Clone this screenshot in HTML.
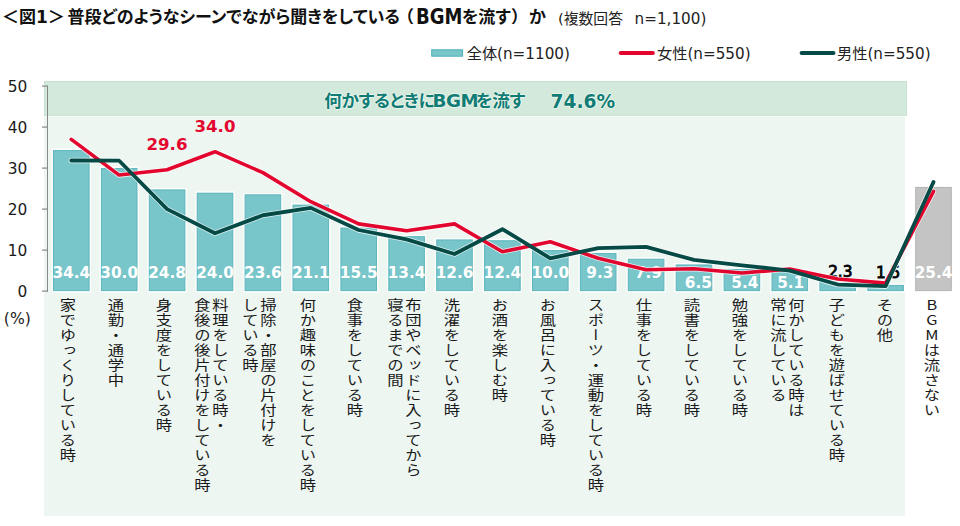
<!DOCTYPE html>
<html lang="ja"><head><meta charset="utf-8"><title>図1</title>
<style>
*{margin:0;padding:0;box-sizing:border-box}
html,body{width:960px;height:526px;background:#fff;overflow:hidden}
body{position:relative;font-family:"Liberation Sans","Noto Sans CJK JP",sans-serif;color:#1a1a1a}
svg{position:absolute;left:0;top:0}
.t{position:absolute;white-space:nowrap;line-height:1}
.num{font-family:"DejaVu Sans","Noto Sans CJK JP",sans-serif}
.title{font-size:17px;font-weight:bold;font-family:"DejaVu Sans","Noto Sans CJK JP",sans-serif;color:#111}
.palt{font-feature-settings:"palt"}
.lat{font-family:"DejaVu Sans",sans-serif}
.sub{font-size:14.8px;font-family:"DejaVu Sans","Noto Sans CJK JP",sans-serif;color:#222}
.leg{top:46.8px;font-size:15.2px;font-family:"DejaVu Sans","Noto Sans CJK JP",sans-serif;color:#222}
.band{font-size:17px;font-weight:bold;color:#107c76;text-shadow:1px 0 rgba(255,255,245,.55),-1px 0 rgba(255,255,245,.55),0 1px rgba(255,255,245,.55),0 -1px rgba(255,255,245,.55);font-family:"Noto Sans CJK JP",sans-serif}
.ax{font-size:15.4px;font-family:"DejaVu Sans",sans-serif;color:#1a1a1a;text-align:right;width:30px}
.dl{font-size:15.3px;font-weight:bold;font-family:"DejaVu Sans",sans-serif;text-align:center;width:60px;letter-spacing:0px}
.red{font-size:16.6px;font-weight:bold;font-family:"DejaVu Sans",sans-serif;color:#e3062f}
.vl{position:absolute;top:297.6px;writing-mode:vertical-rl;font-size:13.6px;letter-spacing:1.4px;font-weight:400;line-height:14.9px;transform:scaleX(1.2);transform-origin:50% 0;font-family:"Noto Sans CJK JP",sans-serif;color:#1a1a1a;white-space:nowrap}
.up{text-orientation:upright}
.band.lat,.band .lat,.title.lat,.sub.lat{font-family:"DejaVu Sans",sans-serif}
</style></head><body>

<svg width="960" height="526" viewBox="0 0 960 526"><rect x="44" y="115.5" width="861" height="400.5" fill="#eef6f2"/><rect x="44" y="115.6" width="861" height="1.2" fill="#fbfdfc"/><rect x="44.5" y="81.5" width="862" height="33.8" fill="#d2e9dc" stroke="#c6e1d2" stroke-width="1"/><rect x="51.60" y="148.66" width="39.40" height="143.84" fill="#fcfefd"/><rect x="99.50" y="166.70" width="39.40" height="125.80" fill="#fcfefd"/><rect x="147.40" y="188.02" width="39.40" height="104.48" fill="#fcfefd"/><rect x="195.30" y="191.30" width="39.40" height="101.20" fill="#fcfefd"/><rect x="243.20" y="192.94" width="39.40" height="99.56" fill="#fcfefd"/><rect x="291.10" y="203.19" width="39.40" height="89.31" fill="#fcfefd"/><rect x="339.00" y="226.15" width="39.40" height="66.35" fill="#fcfefd"/><rect x="386.90" y="234.76" width="39.40" height="57.74" fill="#fcfefd"/><rect x="434.80" y="238.04" width="39.40" height="54.46" fill="#fcfefd"/><rect x="482.70" y="238.86" width="39.40" height="53.64" fill="#fcfefd"/><rect x="530.60" y="248.70" width="39.40" height="43.80" fill="#fcfefd"/><rect x="578.50" y="251.57" width="39.40" height="40.93" fill="#fcfefd"/><rect x="626.40" y="257.31" width="39.40" height="35.19" fill="#fcfefd"/><rect x="674.30" y="263.05" width="39.40" height="29.45" fill="#fcfefd"/><rect x="722.20" y="267.56" width="39.40" height="24.94" fill="#fcfefd"/><rect x="770.10" y="268.79" width="39.40" height="23.71" fill="#fcfefd"/><rect x="818.00" y="280.27" width="39.40" height="12.23" fill="#fcfefd"/><rect x="865.90" y="283.55" width="39.40" height="8.95" fill="#fcfefd"/><rect x="913.80" y="185.56" width="39.40" height="106.94" fill="#fcfefd"/><rect x="53.50" y="150.56" width="35.60" height="140.04" fill="#78c5ca" stroke="#5cb6bc" stroke-width="1"/><rect x="101.40" y="168.60" width="35.60" height="122.00" fill="#78c5ca" stroke="#5cb6bc" stroke-width="1"/><rect x="149.30" y="189.92" width="35.60" height="100.68" fill="#78c5ca" stroke="#5cb6bc" stroke-width="1"/><rect x="197.20" y="193.20" width="35.60" height="97.40" fill="#78c5ca" stroke="#5cb6bc" stroke-width="1"/><rect x="245.10" y="194.84" width="35.60" height="95.76" fill="#78c5ca" stroke="#5cb6bc" stroke-width="1"/><rect x="293.00" y="205.09" width="35.60" height="85.51" fill="#78c5ca" stroke="#5cb6bc" stroke-width="1"/><rect x="340.90" y="228.05" width="35.60" height="62.55" fill="#78c5ca" stroke="#5cb6bc" stroke-width="1"/><rect x="388.80" y="236.66" width="35.60" height="53.94" fill="#78c5ca" stroke="#5cb6bc" stroke-width="1"/><rect x="436.70" y="239.94" width="35.60" height="50.66" fill="#78c5ca" stroke="#5cb6bc" stroke-width="1"/><rect x="484.60" y="240.76" width="35.60" height="49.84" fill="#78c5ca" stroke="#5cb6bc" stroke-width="1"/><rect x="532.50" y="250.60" width="35.60" height="40.00" fill="#78c5ca" stroke="#5cb6bc" stroke-width="1"/><rect x="580.40" y="253.47" width="35.60" height="37.13" fill="#78c5ca" stroke="#5cb6bc" stroke-width="1"/><rect x="628.30" y="259.21" width="35.60" height="31.39" fill="#78c5ca" stroke="#5cb6bc" stroke-width="1"/><rect x="676.20" y="264.95" width="35.60" height="25.65" fill="#78c5ca" stroke="#5cb6bc" stroke-width="1"/><rect x="724.10" y="269.46" width="35.60" height="21.14" fill="#78c5ca" stroke="#5cb6bc" stroke-width="1"/><rect x="772.00" y="270.69" width="35.60" height="19.91" fill="#78c5ca" stroke="#5cb6bc" stroke-width="1"/><rect x="819.90" y="282.17" width="35.60" height="8.43" fill="#78c5ca" stroke="#5cb6bc" stroke-width="1"/><rect x="867.80" y="285.45" width="35.60" height="5.15" fill="#78c5ca" stroke="#5cb6bc" stroke-width="1"/><rect x="915.70" y="187.46" width="35.60" height="103.14" fill="#c4c4c4" stroke="#b4b4b4" stroke-width="1"/><path d="M47.5 86 V291.6" stroke="#878787" stroke-width="1" fill="none"/><path d="M42 291.10 H48" stroke="#878787" stroke-width="1.2"/><path d="M42 250.10 H48" stroke="#878787" stroke-width="1.2"/><path d="M42 209.10 H48" stroke="#878787" stroke-width="1.2"/><path d="M42 168.10 H48" stroke="#878787" stroke-width="1.2"/><path d="M42 127.10 H48" stroke="#878787" stroke-width="1.2"/><path d="M42 86.10 H48" stroke="#878787" stroke-width="1.2"/><rect x="431.7" y="49.8" width="30.9" height="6.4" fill="#78c5ca" stroke="#4fb0b7" stroke-width="1"/><path d="M620.8 53 H652.8" stroke="#e2062f" stroke-width="4.2" stroke-linecap="round"/><path d="M801.7 53 H833.4" stroke="#064a46" stroke-width="4.2" stroke-linecap="round"/></svg>
<div class="t title" style="left:2px;top:9.2px">＜図1＞</div>
<div class="t title palt" style="left:67.5px;top:9.2px;font-size:17px">普段どのようなシーンでながら聞きをしている</div>
<div class="t title" style="left:397px;top:9.2px;font-size:17px">（</div>
<div class="t title lat" style="left:416px;top:7.2px;font-size:18px;transform:scaleY(1.13);transform-origin:0 0">BGM</div>
<div class="t title palt" style="left:462px;top:9.2px;font-size:17px">を流す</div>
<div class="t title" style="left:511px;top:9.2px;font-size:17px">）</div>
<div class="t title" style="left:529px;top:9.2px;font-size:17px">か</div>
<div class="t sub" style="left:558px;top:12px">(複数回答</div>
<div class="t sub lat" style="left:634.6px;top:12.3px;font-size:15.2px">n=1,100)</div>
<div class="t leg" style="left:466.7px">全体(n=1100)</div>
<div class="t leg" style="left:657px">女性(n=550)</div>
<div class="t leg" style="left:837px">男性(n=550)</div>
<div class="t band palt" style="left:324.3px;top:90.6px;font-size:17.6px;letter-spacing:-0.45px">何かするときに<span class="lat" style="font-size:18.3px;margin-left:-2.6px;margin-right:-2.5px">BGM</span>を流す</div>
<div class="t band lat" style="left:550.5px;top:93px;font-size:18.6px">74.6%</div>
<div class="t ax" style="left:-2.6px;top:284.7px">0</div>
<div class="t ax" style="left:-2.6px;top:243.7px">10</div>
<div class="t ax" style="left:-2.6px;top:202.7px">20</div>
<div class="t ax" style="left:-2.6px;top:161.7px">30</div>
<div class="t ax" style="left:-2.6px;top:120.7px">40</div>
<div class="t ax" style="left:-2.6px;top:79.7px">50</div>
<div class="t num" style="left:3.8px;top:312px;font-size:15.6px">(%)</div>
<div class="t dl" style="left:41.3px;top:266.4px;color:#fff">34.4</div>
<div class="t dl" style="left:89.2px;top:266.4px;color:#fff">30.0</div>
<div class="t dl" style="left:137.1px;top:266.4px;color:#fff">24.8</div>
<div class="t dl" style="left:185.0px;top:266.4px;color:#fff">24.0</div>
<div class="t dl" style="left:232.9px;top:266.4px;color:#fff">23.6</div>
<div class="t dl" style="left:280.8px;top:266.4px;color:#fff">21.1</div>
<div class="t dl" style="left:328.7px;top:266.4px;color:#fff">15.5</div>
<div class="t dl" style="left:376.6px;top:266.4px;color:#fff">13.4</div>
<div class="t dl" style="left:424.5px;top:266.4px;color:#fff">12.6</div>
<div class="t dl" style="left:472.4px;top:266.4px;color:#fff">12.4</div>
<div class="t dl" style="left:520.3px;top:266.4px;color:#fff">10.0</div>
<div class="t dl" style="left:569.8px;top:266.4px;color:#fff">9.3</div>
<div class="t dl" style="left:618.4px;top:266.4px;color:#fff">7.9</div>
<div class="t dl" style="left:668.4px;top:275.6px;color:#fff">6.5</div>
<div class="t dl" style="left:714.8px;top:276.2px;color:#fff">5.4</div>
<div class="t dl" style="left:760.7px;top:276.2px;color:#fff">5.1</div>
<div class="t dl" style="left:810.3px;top:265.0px;color:#000;font-weight:normal;-webkit-text-stroke:0.8px #000;text-shadow:0 0 1.5px #fff,0 0 1.5px #fff">2.3</div>
<div class="t dl" style="left:858.2px;top:265.5px;color:#000;font-weight:normal;-webkit-text-stroke:0.8px #000;text-shadow:0 0 1.5px #fff,0 0 1.5px #fff">1.5</div>
<div class="t dl" style="left:903.5px;top:266.4px;color:#fff">25.4</div>
<div class="t red" style="left:146.5px;top:137px">29.6</div>
<div class="t red" style="left:194.5px;top:119px">34.0</div>
<svg width="960" height="526" viewBox="0 0 960 526"><polyline points="71.30,139.40 119.20,175.07 167.10,169.74 215.00,151.70 262.90,172.61 310.80,201.72 358.70,223.86 406.60,230.83 454.50,223.86 502.40,251.74 550.30,241.70 598.20,258.30 646.10,269.78 694.00,268.75 741.90,273.06 789.80,268.96 837.70,279.00 885.60,283.11 933.50,191.47" fill="none" stroke="#ffffff" stroke-opacity="0.75" stroke-width="5.2" stroke-linejoin="round" stroke-linecap="round"/><polyline points="71.30,160.52 119.20,160.72 167.10,209.10 215.00,233.29 262.90,215.25 310.80,207.87 358.70,230.01 406.60,239.44 454.50,254.00 502.40,229.19 550.30,258.30 598.20,248.05 646.10,246.82 694.00,259.94 741.90,265.27 789.80,270.60 837.70,284.54 885.60,286.18 933.50,182.04" fill="none" stroke="#ffffff" stroke-opacity="0.75" stroke-width="5.4" stroke-linejoin="round" stroke-linecap="round"/><polyline points="71.30,139.40 119.20,175.07 167.10,169.74 215.00,151.70 262.90,172.61 310.80,201.72 358.70,223.86 406.60,230.83 454.50,223.86 502.40,251.74 550.30,241.70 598.20,258.30 646.10,269.78 694.00,268.75 741.90,273.06 789.80,268.96 837.70,279.00 885.60,283.11 933.50,191.47" fill="none" stroke="#e2062f" stroke-width="3.6" stroke-linejoin="round" stroke-linecap="round"/><polyline points="71.30,160.52 119.20,160.72 167.10,209.10 215.00,233.29 262.90,215.25 310.80,207.87 358.70,230.01 406.60,239.44 454.50,254.00 502.40,229.19 550.30,258.30 598.20,248.05 646.10,246.82 694.00,259.94 741.90,265.27 789.80,270.60 837.70,284.54 885.60,286.18 933.50,182.04" fill="none" stroke="#064a46" stroke-width="3.8" stroke-linejoin="round" stroke-linecap="round"/></svg>
<div class="vl" style="left:59.9px;width:14.9px">家でゆっくりしている時</div>
<div class="vl" style="left:107.5px;width:14.9px">通勤・通学中</div>
<div class="vl" style="left:155.8px;width:14.9px">身支度をしている時</div>
<div class="vl" style="left:196.2px;width:29.8px">料理をしている時・<br>食後の後片付けをしている時</div>
<div class="vl" style="left:244.1px;width:29.8px">掃除・部屋の片付けを<br>している時</div>
<div class="vl" style="left:299.7px;width:14.9px">何か趣味のことをしている時</div>
<div class="vl" style="left:347.4px;width:14.9px">食事をしている時</div>
<div class="vl" style="left:389.0px;width:29.8px">布団やベッドに入ってから<br>寝るまでの間</div>
<div class="vl" style="left:444.2px;width:14.9px">洗濯をしている時</div>
<div class="vl" style="left:491.7px;width:14.9px">お酒を楽しむ時</div>
<div class="vl" style="left:540.1px;width:14.9px">お風呂に入っている時</div>
<div class="vl" style="left:588.3px;width:14.9px">スポーツ・運動をしている時</div>
<div class="vl" style="left:635.9px;width:14.9px">仕事をしている時</div>
<div class="vl" style="left:684.1px;width:14.9px">読書をしている時</div>
<div class="vl" style="left:732.1px;width:14.9px">勉強をしている時</div>
<div class="vl" style="left:772.2px;width:29.8px">何かしている時は<br>常に流している</div>
<div class="vl" style="left:828.5px;width:14.9px">子どもを遊ばせている時</div>
<div class="vl" style="left:877.2px;width:14.9px">その他</div>
<div class="vl" style="left:923.9px;width:14.9px"><span class="up">BGM</span>は流さない</div>
</body></html>
